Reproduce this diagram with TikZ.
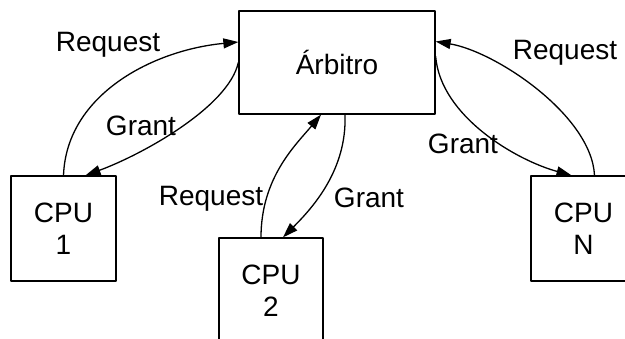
\documentclass[tikz,border=0pt]{standalone}
\usepackage{fontspec}
\setmainfont{Liberation Sans}
\usetikzlibrary{arrows.meta}

\begin{document}
\begin{tikzpicture}[x=1bp, y=-1bp, line join = round, line cap = round,
    box/.style={draw, line width=1.3bp, inner sep=0pt, align=center,
        font=\fontsize{28bp}{32bp}\selectfont},
    lbl/.style={inner sep=0pt, font=\fontsize{28bp}{32bp}\selectfont},
    link/.style={line width=1.3bp, -{Triangle[length=15bp, width=10bp]}}]

                        \useasboundingbox (0,0) rectangle (625,338);

                        % arbiter
                        \node[box, minimum width=196bp, minimum height=103bp] (arb) at (337,62.5) {Árbitro};

                        % cpus
                        \node[box, minimum width=105bp, minimum height=105bp] (cpu1) at (63.5,228.5) {CPU\\1};
                        \node[box, minimum width=104bp, minimum height=105bp] (cpu2) at (271,290.5) {CPU\\2};
                        \node[box, minimum width=105bp, minimum height=105bp] (cpuN) at (583.5,228.5) {CPU\\N};

                        % labels
                        \node[lbl] (req1) at (108,45) {Request};
                        \node[lbl] (gnt1) at (141,126) {Grant};
                        \node[lbl] (req2) at (211,199) {Request};
                        \node[lbl] (gnt2) at (369,198) {Grant};
                        \node[lbl] (reqN) at (565,53) {Request};
                        \node[lbl] (gntN) at (463,144) {Grant};

                        % first-cpu
                        \draw[link] (cpu1.north) .. controls +(3,-81) and +(-85,8) .. ([yshift=20.5bp]arb.west);
                        \draw[link] (arb.west) .. controls +(-10,45) and +(55,-20) .. ([xshift=22bp]cpu1.north);
                        % second-cpu
                        \draw[link] ([xshift=-10bp]cpu2.north) .. controls +(0,-60) and +(-25,30) .. ([xshift=-16bp]arb.south);
                        \draw[link] ([xshift=8bp]arb.south) .. controls +(2,55) and +(30,-30) .. ([xshift=12bp]cpu2.north);
                        % last-cpu
                        \draw[link] ([yshift=6bp]arb.east) .. controls +(5,60) and +(-55,-15) .. ([xshift=-12bp]cpuN.north);
                        \draw[link] ([xshift=11bp]cpuN.north) .. controls +(-3,-60) and +(60,10) .. ([yshift=21bp]arb.east);

                    \end{tikzpicture}
\end{document}
